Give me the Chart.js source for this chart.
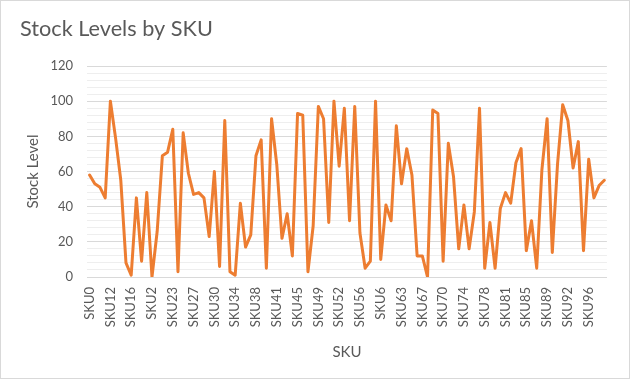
<!DOCTYPE html>
<html>
<head>
<meta charset="utf-8">
<script src="https://cdn.jsdelivr.net/npm/chart.js@4"></script>
<style>
html,body{margin:0;padding:0;background:#fff;}
#wrap{width:630px;height:379px;position:relative;}
canvas{display:block;}
</style>
</head>
<body>
<div id="wrap"><canvas id="c" width="630" height="379"></canvas></div>
<script>
const chartTitle = "Stock Levels by SKU";
const xAxisTitle = "SKU";
const yAxisTitle = "Stock Level";
const skus = ["SKU0","SKU1","SKU10","SKU11","SKU12","SKU13","SKU14","SKU15","SKU16","SKU17","SKU18","SKU19",
"SKU2","SKU20","SKU21","SKU22","SKU23","SKU24","SKU25","SKU26","SKU27","SKU28","SKU29",
"SKU3","SKU30","SKU31","SKU32","SKU33","SKU34","SKU35","SKU36","SKU37","SKU38","SKU39",
"SKU4","SKU40","SKU41","SKU42","SKU43","SKU44","SKU45","SKU46","SKU47","SKU48","SKU49",
"SKU5","SKU50","SKU51","SKU52","SKU53","SKU54","SKU55","SKU56","SKU57","SKU58","SKU59",
"SKU6","SKU60","SKU61","SKU62","SKU63","SKU64","SKU65","SKU66","SKU67","SKU68","SKU69",
"SKU7","SKU70","SKU71","SKU72","SKU73","SKU74","SKU75","SKU76","SKU77","SKU78","SKU79",
"SKU8","SKU80","SKU81","SKU82","SKU83","SKU84","SKU85","SKU86","SKU87","SKU88","SKU89",
"SKU9","SKU90","SKU91","SKU92","SKU93","SKU94","SKU95","SKU96","SKU97","SKU98","SKU99"];
const stockLevels = [58,53,51,45,100,79,55,8,1,45,
9,48,0,26,69,71,84,3,82,59,
47,48,45,23,60,6,89,3,1,42,
17,24,69,78,5,90,64,22,36,12,
93,92,3,29,97,90,31,100,63,96,
32,97,25,5,9,100,10,41,32,86,
53,73,58,12,12,0,95,93,9,76,
57,16,41,16,37,96,5,31,5,39,
48,42,65,73,15,32,5,61,90,14,
64,98,89,62,77,15,67,45,52,55];
const yTickValues = [0,20,40,60,80,100,120];

const FONT = "Lato, 'Open Sans', sans-serif";

const frame = {
  id: 'frame',
  beforeDraw(chart) {
    const ctx = chart.ctx;
    ctx.save();
    ctx.fillStyle = '#ffffff';
    ctx.fillRect(0, 0, chart.width, chart.height);
    ctx.restore();
  },
  afterDraw(chart) {
    const ctx = chart.ctx;
    ctx.save();
    ctx.strokeStyle = '#d9d9d9';
    ctx.lineWidth = 1;
    ctx.strokeRect(0.5, 0.5, chart.width - 1, chart.height - 1);
    ctx.fillStyle = '#595959';
    ctx.font = "21.7px " + FONT;
    ctx.textBaseline = 'alphabetic';
    ctx.textAlign = 'left';
    ctx.fillText(chartTitle, 20, 36);
    ctx.restore();
  }
};

new Chart(document.getElementById('c'), {
  type: 'line',
  data: {
    labels: skus,
    datasets: [{
      data: stockLevels,
      borderColor: '#ED7D31',
      backgroundColor: '#ED7D31',
      borderWidth: 3,
      pointRadius: 0,
      tension: 0,
      borderJoinStyle: 'round',
      borderCapStyle: 'round'
    }]
  },
  options: {
    responsive: false,
    animation: false,
    layout: { padding: { left: 0, right: 21, top: 66, bottom: 0 } },
    plugins: { legend: { display: false }, tooltip: { enabled: false }, title: { display: false } },
    scales: {
      x: {
        offset: true,
        grid: { display: false, drawTicks: false },
        border: { display: true, color: '#d9d9d9', width: 1 },
        ticks: {
          autoSkip: false,
          maxRotation: 90,
          minRotation: 90,
          padding: 10,
          color: '#595959',
          font: { family: FONT, size: 13 },
          callback: function(v, i) { return i % 4 === 0 ? skus[i] : ''; }
        },
        title: {
          display: true,
          text: xAxisTitle,
          color: '#595959',
          font: { family: FONT, size: 15 },
          padding: { top: 0, bottom: 18 }
        },
        afterFit(scale) { scale.height = 102; }
      },
      y: {
        min: 0,
        max: 120,
        grid: {
          drawTicks: false,
          color: ctx => (ctx.tick && ctx.tick.value % 20 === 0) ? '#d9d9d9' : '#eeeeee',
          lineWidth: 1
        },
        border: { display: false },
        ticks: {
          stepSize: 4,
          autoSkip: false,
          padding: 14,
          color: '#595959',
          font: { family: FONT, size: 13 },
          callback: v => yTickValues.includes(v) ? String(v) : ''
        },
        title: {
          display: true,
          text: yAxisTitle,
          color: '#595959',
          font: { family: FONT, size: 15 },
          padding: { top: 24, bottom: 0 }
        },
        afterFit(scale) { scale.width = 87; }
      }
    }
  },
  plugins: [frame]
});
</script>
</body>
</html>
